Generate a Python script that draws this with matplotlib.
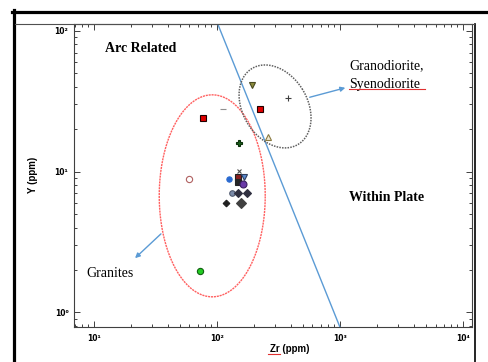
import numpy as np
import matplotlib
matplotlib.use('Agg')
import matplotlib.pyplot as plt
from matplotlib.lines import Line2D
from matplotlib.ticker import LogLocator, FuncFormatter, NullFormatter

# sample points, Zr vs Y (ppm)
zr_ppm = [195, 382, 225, 262, 113, 78, 153, 60, 152, 126,
          148, 168, 150, 164, 134, 150, 177, 119, 158, 73]
y_ppm = [41.1, 33.1, 27.7, 17.7, 27.7, 23.9, 15.9, 8.85, 10.1, 8.9,
         9.1, 9.2, 8.46, 8.15, 7.0, 7.0, 7.0, 6.0, 6.0, 1.97]

# marker, size, face, edge
styles = [('v', 4.5, '#8c8c3c', '#4a4a20'), ('+', 4, '#404040', '#404040'),
          ('s', 5, '#e00000', '#200000'), ('^', 4.5, '#f0e8d0', '#8a7a40'),
          ('_', 5, '#909090', '#909090'), ('s', 5, '#e00000', '#200000'),
          ('P', 5, '#1a5e1a', '#0a300a'), ('o', 4.5, 'white', '#b06060'),
          ('x', 3.5, '#505050', '#505050'), ('o', 3.8, '#2a6ad0', '#2a6ad0'),
          ('s', 4.5, '#8a2020', '#202020'), ('v', 4.5, '#5a8ad0', '#304060'),
          ('s', 4.5, '#252525', '#252525'), ('o', 5, '#6a3aa8', '#3a2060'),
          ('o', 4, '#7a8aa8', '#505a70'), ('D', 4, '#303040', '#303040'),
          ('D', 4, '#303040', '#303040'), ('D', 3.4, '#202020', '#202020'),
          ('D', 5.5, '#404040', '#404040'), ('o', 4.5, '#22cc22', '#106010')]

# discriminant line (Arc Related / Within Plate)
boundary_zr = [102, 1000]
boundary_y = [111.7, 0.79]

W, H = 488, 362
fig = plt.figure(figsize=(W / 100, H / 100), dpi=100)
ax = fig.add_axes([74 / W, 1 - 326.7 / H, (471.7 - 74) / W, (326.7 - 24) / H])
ax.set_xscale('log')
ax.set_yscale('log')
ax.set_xlim(6.93, 11800)
ax.set_ylim(0.79, 111.7)

sup = str.maketrans('0123456789-', '⁰¹²³⁴⁵⁶⁷⁸⁹⁻')
fmt = FuncFormatter(lambda v, p: '10' + str(int(round(np.log10(v)))).translate(sup))
for axis in (ax.xaxis, ax.yaxis):
    axis.set_major_locator(LogLocator(base=10))
    axis.set_minor_locator(LogLocator(base=10, subs=np.arange(2, 10)))
    axis.set_major_formatter(fmt)
    axis.set_minor_formatter(NullFormatter())
ax.tick_params(which='both', direction='in', top=True, right=True,
               width=0.7, color='#404040', labelsize=5.5)
ax.tick_params(which='major', length=4.5)
ax.tick_params(which='minor', length=2.5)
ax.tick_params(axis='x', pad=5)
ax.tick_params(axis='y', pad=4)
for lab in ax.get_xticklabels() + ax.get_yticklabels():
    lab.set_fontweight('bold')
    lab.set_family(['DejaVu Sans'])
for s in ax.spines.values():
    s.set_linewidth(0.8)
    s.set_color('#404040')

ax.set_xlabel('Zr (ppm)', fontsize=7, fontweight='bold', family='Liberation Sans')
ax.xaxis.set_label_coords(0.543, -0.057)
ax.set_ylabel('Y (ppm)', fontsize=7, fontweight='bold', family='Liberation Sans', labelpad=12)

ax.plot(boundary_zr, boundary_y, color='#5b9bd5', lw=1)


def ellipse_line(center, rx, ry, angle, **kw):
    # ellipse drawn in screen pixels around a data centre
    t = np.linspace(0, 2 * np.pi, 300)
    c = np.deg2rad(angle)
    dx = rx * np.cos(t) * np.cos(c) - ry * np.sin(t) * np.sin(c)
    dy = rx * np.cos(t) * np.sin(c) + ry * np.sin(t) * np.cos(c)
    cx, cy = ax.transData.transform(center)
    pts = ax.transData.inverted().transform(np.column_stack([cx + dx, cy + dy]))
    ax.plot(pts[:, 0], pts[:, 1], **kw)


ellipse_line((92, 6.72), 53, 101, 0, color='#ff6060', lw=1, ls=(0, (1.5, 0.6)))
ellipse_line((298, 29.0), 32.3, 44.4, 31.4, color='#606060', lw=1.1, ls=(0, (1, 0.8)))

for x, y, (m, ms, fc, ec) in zip(zr_ppm, y_ppm, styles):
    ax.plot(x, y, marker=m, ms=ms, mfc=fc, mec=ec, mew=0.8, ls='none')

arrow = dict(arrowstyle='-|>', color='#5b9bd5', lw=1, mutation_scale=7)
ax.annotate('', xy=(1167, 39.8), xytext=(542, 33.3), arrowprops=arrow)
ax.annotate('', xy=(20.9, 2.35), xytext=(36.6, 3.72), arrowprops=arrow)

serif = 'Liberation Serif'
ax.text(12.4, 75.3, 'Arc Related', family=serif, fontweight='bold', fontsize=10, va='center')
ax.text(1189, 6.59, 'Within Plate', family=serif, fontweight='bold', fontsize=10, va='center')
ax.text(1189, 56.1, 'Granodiorite,', family=serif, fontsize=10, va='center')
ax.text(1189, 41.8, 'Syenodiorite', family=serif, fontsize=10, va='center')
ax.text(8.67, 1.90, 'Granites', family=serif, fontsize=10, va='center')


def fig_line(xs, ys, **kw):
    fig.add_artist(Line2D(np.array(xs) / W, 1 - np.array(ys) / H, transform=fig.transFigure, **kw))


# spell-check underlines
fig_line([349, 425], [88.5, 88.5], color='#e03030', lw=0.8)
fig_line([268, 280], [354, 354], color='#e03030', lw=0.8)
# picture frame
fig_line([12, 488], [11.5, 11.5], color='black', lw=2.3)
fig_line([13.5, 13.5], [10, 362], color='black', lw=2.3)
fig_line([474.5, 474.5], [24, 362], color='black', lw=1.2)
fig_line([15, 474], [24, 24], color='#505050', lw=0.8)

fig.savefig('out.png', dpi=100)
